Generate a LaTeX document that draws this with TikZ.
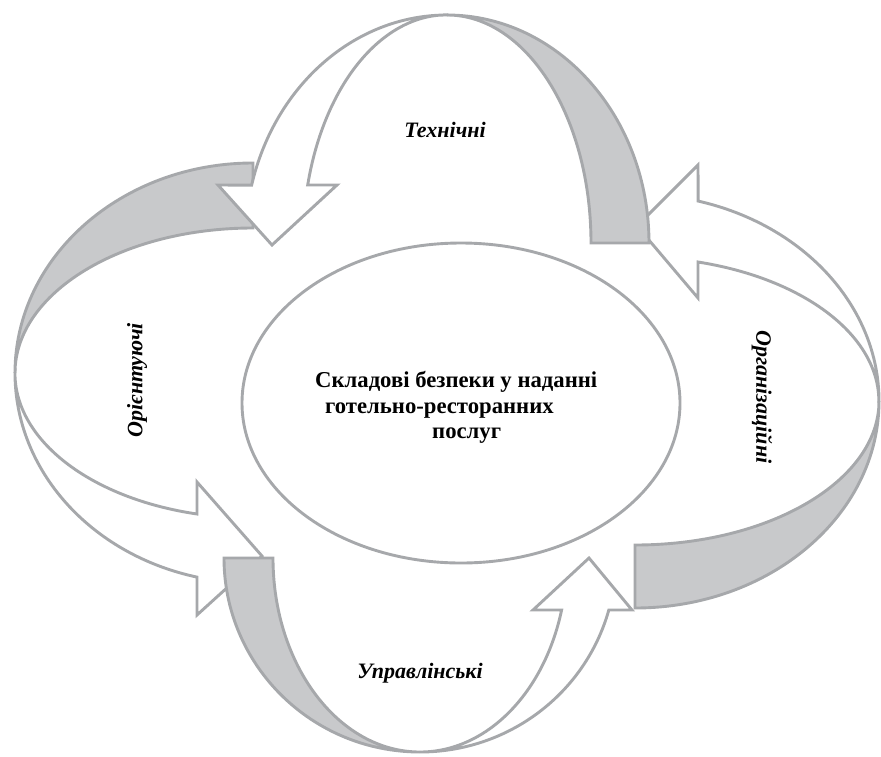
\documentclass[tikz,border=0pt]{standalone}
\usepackage{fontspec}
\setmainfont{Liberation Serif}
\definecolor{edgegray}{RGB}{166,168,171}
\definecolor{backgray}{RGB}{200,201,203}
\begin{document}
\begin{tikzpicture}[x=1pt,y=1pt,
  band/.style={draw=edgegray,line width=2.9pt,fill=white},
  backband/.style={draw=edgegray,line width=2.9pt,fill=backgray},
  lbl/.style={font=\fontsize{22}{26}\selectfont\bfseries\itshape,inner sep=0pt},
  ctext/.style={font=\fontsize{22.7}{26}\selectfont\bfseries,inner sep=0pt,anchor=base west}]
\useasboundingbox (0,0) rectangle (881,-756);

% left arrow (Орієнтуючі)
\path[backband] (253,-163) arc[start angle=90,end angle=180,x radius=238,y radius=210]
  arc[start angle=180,end angle=90,x radius=238,y radius=145] -- cycle;
\path[band] (15,-373) arc[start angle=180,end angle=256.4,x radius=238,y radius=210]
  -- (197,-615) -- (262,-556) -- (197,-482) -- (197,-514)
  arc[start angle=256.4,end angle=180,x radius=238,y radius=145] -- cycle;

% right arrow (Організаційні)
\path[backband] (635,-608) arc[start angle=270,end angle=360,x radius=244,y radius=207]
  arc[start angle=0,end angle=-90,x radius=244,y radius=144] -- cycle;
\path[band] (879,-401) arc[start angle=0,end angle=75.0,x radius=244,y radius=207]
  -- (698,-165) -- (637,-226) -- (698,-298) -- (698,-262)
  arc[start angle=75.0,end angle=0,x radius=244,y radius=144] -- cycle;

% bottom arrow (Управлінські)
\path[backband] (224,-558) arc[start angle=180,end angle=270,x radius=196,y radius=194]
  arc[start angle=270,end angle=180,x radius=147,y radius=194] -- cycle;
\path[band] (420,-752) arc[start angle=270,end angle=344.45,x radius=196,y radius=194]
  -- (632,-610) -- (589,-558) -- (533,-610) -- (561.6,-610)
  arc[start angle=344.45,end angle=270,x radius=147,y radius=194] -- cycle;

% top arrow (Технічні)
\path[backband] (649,-243) arc[start angle=0,end angle=90,x radius=202,y radius=228]
  arc[start angle=90,end angle=0,x radius=144,y radius=228] -- cycle;
\path[band] (447,-15) arc[start angle=90,end angle=165.3,x radius=202,y radius=228]
  -- (218,-185) -- (272,-245) -- (337,-185) -- (307.7,-185)
  arc[start angle=165.3,end angle=90,x radius=144,y radius=228] -- cycle;

% central ellipse
\draw[edgegray,line width=2.9pt] (461,-403) ellipse[x radius=219,y radius=160];

\node[ctext] (c1) at (315,-387) {Складові безпеки у наданні};
\node[ctext] (c2) at (325,-413) {готельно-ресторанних};
\node[ctext] (c3) at (432,-438) {послуг};

\node[lbl] (tech) at (445,-130) {Технічні};
\node[lbl,rotate=90] (orient) at (137,-380) {Орієнтуючі};
\node[lbl,rotate=-90] (org) at (762,-397) {Організаційні};
\node[lbl] (manage) at (420,-673) {Управлінські};
\end{tikzpicture}
\end{document}
